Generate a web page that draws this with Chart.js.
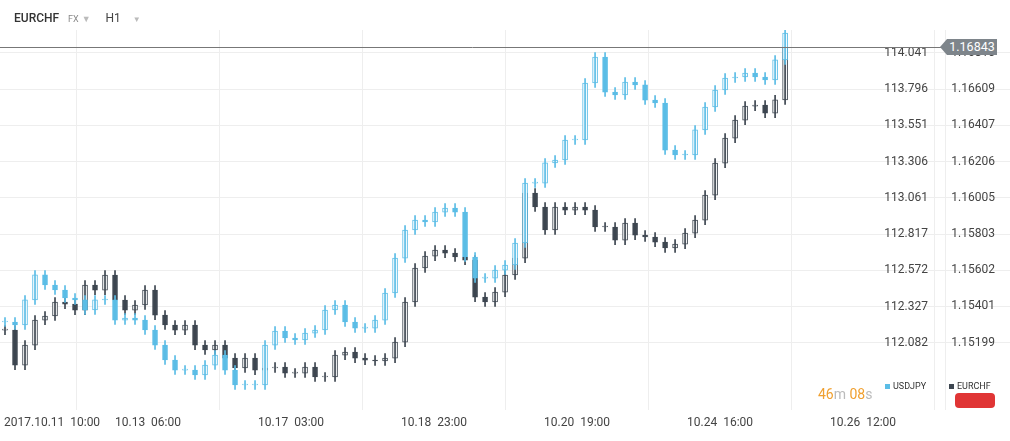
<!DOCTYPE html>
<html><head><meta charset="utf-8">
<script src="https://cdn.jsdelivr.net/npm/chart.js@4"></script>
<style>
body{margin:0;background:#fff;font-family:Roboto,"Open Sans",sans-serif;}
#wrap{position:relative;width:1010px;height:441px;}
#hdr{position:absolute;left:14px;top:11px;font-size:12px;color:#333;}
.ov{position:absolute;font-family:Roboto,sans-serif;}
</style></head><body>
<div id="wrap">
<canvas id="c" width="1010" height="441"></canvas>
<div id="hdr"><b style="font-weight:500">EURCHF</b>&nbsp;&nbsp;&nbsp;<span style="font-size:9px;color:#888">FX</span> <span style="color:#bbb;font-size:9px">▼</span>&nbsp;&nbsp;&nbsp;&nbsp;&nbsp;<span style="color:#444">H1</span>&nbsp;&nbsp;&nbsp;&nbsp;<span style="color:#bbb;font-size:8px">▼</span></div>
<div class="ov" style="left:940px;top:39px;width:0;height:0;border-top:8px solid transparent;border-bottom:8px solid transparent;border-right:7px solid #7e858b;"></div>
<div class="ov" style="left:947px;top:39px;width:50px;height:16px;background:#7e858b;color:#fff;font-size:12.5px;line-height:16px;text-align:center;">1.16843</div>
<div class="ov" style="left:818px;top:386px;font-size:14px;color:#f0a030;">46<span style="color:#bbb">m</span> 08<span style="color:#bbb">s</span></div>
<div class="ov" style="left:885px;top:381px;font-size:9px;color:#333;"><span style="display:inline-block;width:5px;height:5px;background:#5bbde6;margin-right:3px"></span>USDJPY</div>
<div class="ov" style="left:949px;top:381px;font-size:9px;color:#333;"><span style="display:inline-block;width:5px;height:5px;background:#3d4650;margin-right:3px"></span>EURCHF</div>
<div class="ov" style="left:955px;top:393px;width:40px;height:15px;background:#e03535;border-radius:4px;"></div>
</div>
<script>
const xLabels = ["2017.10.11  10:00","10.13  06:00","10.17  03:00","10.18  23:00","10.20  19:00","10.24  16:00","10.26  12:00"];
const xLabelHours = [0,44,88,132,176,220,264];
const usdTicks = [114.041,113.796,113.551,113.306,113.061,112.817,112.572,112.327,112.082];
const chfTicks = [1.16810,1.16609,1.16407,1.16206,1.16005,1.15803,1.15602,1.15401,1.15199];
const usdjpyClose = [112.223,112.203,112.372,112.541,112.473,112.439,112.385,112.372,112.304,112.372,
 112.372,112.236,112.250,112.236,112.169,112.067,111.966,111.898,111.898,111.865,
 111.932,112.000,111.898,111.797,111.797,111.797,112.067,112.162,112.115,112.101,
 112.148,112.169,112.304,112.338,112.223,112.182,112.182,112.236,112.419,112.655,
 112.845,112.912,112.899,112.966,112.993,112.966,112.662,112.520,112.520,112.574,
 112.608,112.757,113.162,113.162,113.298,113.318,113.453,113.453,113.838,114.014,
 113.777,113.757,113.845,113.825,113.723,113.703,113.385,113.352,113.352,113.521,
 113.676,113.791,113.872,113.879,113.906,113.879,113.859,113.994,114.176];
const eurchfClose = [1.15270,1.15075,1.15186,1.15325,1.15348,1.15426,1.15414,1.15381,1.15520,1.15492,
 1.15576,1.15437,1.15381,1.15409,1.15492,1.15353,1.15298,1.15270,1.15298,1.15186,
 1.15159,1.15186,1.15114,1.15059,1.15114,1.15047,1.15059,1.15064,1.15031,1.15031,
 1.15064,1.15009,1.15009,1.15131,1.15148,1.15114,1.15103,1.15098,1.15114,1.15203,
 1.15426,1.15615,1.15681,1.15715,1.15698,1.15676,1.15659,1.15453,1.15426,1.15481,
 1.15576,1.15670,1.16032,1.15954,1.15826,1.15954,1.15937,1.15954,1.15937,1.15843,
 1.15843,1.15770,1.15865,1.15798,1.15787,1.15759,1.15726,1.15748,1.15809,1.15881,
 1.16020,1.16198,1.16337,1.16437,1.16515,1.16521,1.16476,1.16549,1.16843];
const lastPrice = 1.16843;
const usdRange = [111.6282, 114.1964];
const chfRange = [1.148256, 1.169378];

const HOURS_PER_CANDLE = 3.077;
const BLUE = '#5bbde6', DARK = '#3d4650';
function candles(closes, wick){
  const body=[], wk=[];
  closes.forEach((c,i)=>{
    const o = i>0 ? closes[i-1] : c;
    const x = i*HOURS_PER_CANDLE;
    const lo=Math.min(o,c), hi=Math.max(o,c);
    body.push({x, y:[lo, hi===lo?hi+wick*0.2:hi], up:c>=o});
    wk.push({x, y:[lo-wick, hi+wick]});
  });
  return {body, wk};
}
const u = candles(usdjpyClose, 0.03);
const e = candles(eurchfClose, 0.00025);
function bodyDs(d,col,axis){return {data:d,yAxisID:axis,grouped:false,barThickness:5,borderWidth:1,borderSkipped:false,borderColor:col,
  backgroundColor:ctx=>(ctx.raw&&ctx.raw.up)?'#ffffff':col};}
function wickDs(d,col,axis){return {data:d,yAxisID:axis,grouped:false,barThickness:1,backgroundColor:col,borderWidth:0};}

const extras = {id:'extras',
  afterDatasetsDraw(ch){
    const c=ch.ctx, a=ch.chartArea;
    c.save();
    c.fillStyle='#444';c.font='12px Roboto';c.textAlign='right';c.textBaseline='middle';
    usdTicks.forEach(v=>c.fillText(v.toFixed(3),928,ch.scales.y1.getPixelForValue(v)));
    chfTicks.forEach(v=>c.fillText(v.toFixed(5),995,ch.scales.y2.getPixelForValue(v)));
    c.textAlign='center';
    xLabelHours.forEach((h,i)=>{let x=ch.scales.x.getPixelForValue(h);let t=xLabels[i];
      if(i===0){c.textAlign='left';c.fillText(t,4,423);c.textAlign='center';} else c.fillText(t,x,423);});
    const y=Math.round(ch.scales.y2.getPixelForValue(lastPrice))+0.5;
    c.strokeStyle='#777';c.lineWidth=1;c.beginPath();c.moveTo(0,y);c.lineTo(945,y);c.stroke();
    c.strokeStyle='#eeeeee';c.beginPath();c.moveTo(945.5,a.top);c.lineTo(945.5,a.bottom);c.stroke();
    c.restore();
  }};

function fix(r,ticks){return s=>{s.ticks=ticks.map(v=>({value:v}));s.min=r[0];s.max=r[1];};}

new Chart(document.getElementById('c'),{
  type:'bar',
  data:{datasets:[wickDs(u.wk,BLUE,'y1'),bodyDs(u.body,BLUE,'y1'),wickDs(e.wk,DARK,'y2'),bodyDs(e.body,DARK,'y2')]},
  options:{responsive:false,animation:false,parsing:{xAxisKey:'x',yAxisKey:'y'},
    layout:{padding:{top:30,bottom:31,left:0,right:0}},
    plugins:{legend:{display:false},tooltip:{enabled:false}},
    scales:{
      x:{type:'linear',bounds:'data',offset:false,min:-1.54,max:309.2,
        afterBuildTicks:s=>{s.ticks=xLabelHours.map(v=>({value:v}));},
        ticks:{display:false},
        grid:{color:'#eeeeee',drawTicks:false},border:{display:false},afterFit:s=>{s.height=0;}},
      y1:{type:'linear',position:'right',bounds:'data',min:usdRange[0],max:usdRange[1],
        afterBuildTicks:fix(usdRange,usdTicks),
        ticks:{display:false},
        grid:{color:'#eeeeee',drawTicks:false},border:{display:false},afterFit:s=>{s.width=0;}},
      y2:{type:'linear',position:'right',bounds:'data',min:chfRange[0],max:chfRange[1],
        afterBuildTicks:fix(chfRange,chfTicks),
        ticks:{display:false},
        grid:{display:false},border:{display:false},afterFit:s=>{s.width=0;}}
    }},
  plugins:[extras]
});
</script></body></html>
